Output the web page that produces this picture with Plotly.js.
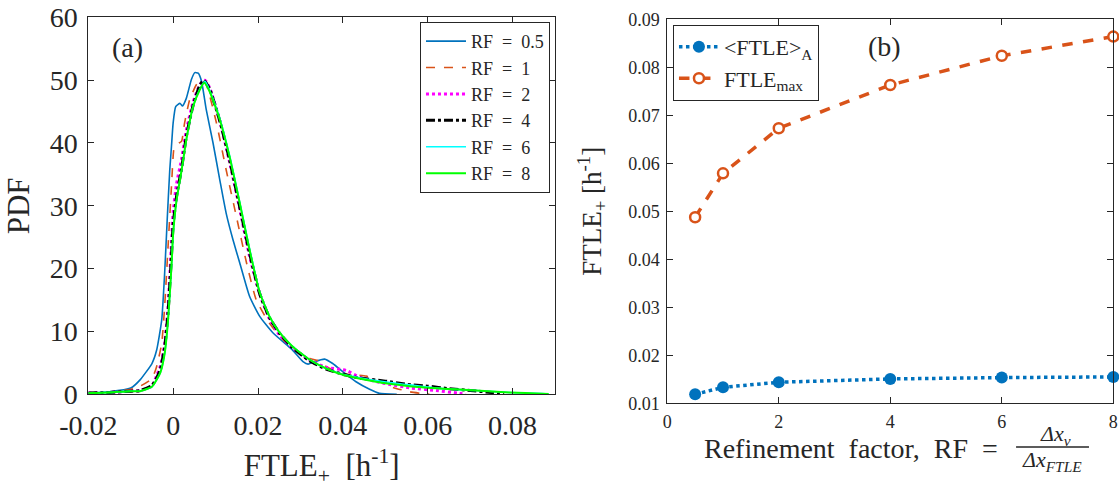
<!DOCTYPE html>
<html>
<head>
<meta charset="utf-8">
<script src="https://cdn.plot.ly/plotly-3.0.1.min.js"></script>
<style>html,body{margin:0;padding:0;background:#fff;}#chart{width:1119px;height:488px;}</style>
</head>
<body>
<div id="chart"></div>
<script>
// ---- Panel (a): PDF of FTLE+ for several refinement factors ----
const rf05_x = [-0.02,-0.015,-0.01,-0.0078,-0.005,-0.0039,-0.0027,-0.002,-0.0014,-0.0008,-0.0004,0,0.0006,0.0016,0.0022,0.0031,0.0043,0.0051,0.0059,0.0067,0.0078,0.0094,0.011,0.0125,0.0141,0.0157,0.018,0.0204,0.0235,0.0267,0.0282,0.0306,0.0318,0.0333,0.0357,0.0376,0.04,0.0431,0.0463,0.0486,0.0527];
const rf05_y = [0.15,0.4,1.0,2.3,4.9,7.0,11.8,19.3,27.8,35.7,39.4,43.2,45.8,46.3,45.9,47.1,50.1,51.2,51.1,49.8,45.3,40.0,34.1,28.8,24.6,20.9,15.6,12.4,9.8,7.9,7.0,5.2,4.8,5.2,5.6,4.9,3.6,2.0,0.8,0.15,0.0];

const rf1_x = [-0.02,-0.015,-0.01,-0.0078,-0.005,-0.0039,-0.0027,-0.002,-0.0012,-0.0004,0.0002,0.0006,0.0014,0.002,0.0027,0.0039,0.0055,0.0067,0.0078,0.0102,0.0125,0.0149,0.0173,0.0196,0.0227,0.0259,0.0282,0.0322,0.0345,0.0361,0.04,0.0455,0.0486,0.0518,0.0557,0.0596,0.0604];
const rf1_y = [0.15,0.3,0.8,1.3,2.5,4.4,8.1,14.0,23.5,33.0,39.2,39.6,40.0,40.3,43.2,46.9,49.3,50.1,49.3,43.2,35.7,28.3,20.9,15.0,11.3,8.7,7.4,5.7,5.3,4.4,3.3,2.9,2.0,1.1,0.4,0.05,0.0];

const rf2_x = [-0.02,-0.015,-0.01,-0.0078,-0.005,-0.004,-0.003,-0.002,-0.0012,-0.0004,0,0.0008,0.002,0.0031,0.0047,0.0063,0.0075,0.0086,0.011,0.0133,0.0157,0.018,0.0204,0.0227,0.025,0.028,0.032,0.036,0.0408,0.044,0.05,0.056,0.062,0.067,0.069];
const rf2_y = [0.2,0.3,0.5,0.6,1.3,2.8,4.5,8.0,14.0,24.0,29.0,33.5,37.5,42.0,46.5,49.3,50.0,48.8,43.5,37.0,29.5,22.0,16.0,12.0,9.5,7.5,5.5,4.3,3.8,2.7,1.7,1.0,0.6,0.2,0.0];

const rf4_x = [-0.02,-0.015,-0.01,-0.0078,-0.005,-0.0039,-0.003,-0.002,-0.0012,-0.0004,0,0.0008,0.002,0.0031,0.0047,0.0063,0.0072,0.0086,0.011,0.0133,0.0157,0.018,0.0204,0.0227,0.025,0.028,0.0322,0.0361,0.04,0.0439,0.05,0.055,0.06,0.065,0.07,0.075,0.078];
const rf4_y = [0.2,0.3,0.5,0.6,1.4,2.6,4.0,7.5,13.0,22.0,27.0,31.5,36.0,41.0,46.0,49.2,50.0,48.6,43.5,37.3,29.8,22.5,16.0,12.2,9.8,7.5,5.3,4.0,3.2,2.6,2.1,1.6,1.3,0.9,0.6,0.3,0.05];

const rf6_x = [-0.02,-0.015,-0.01,-0.0078,-0.005,-0.0039,-0.003,-0.002,-0.0012,-0.0004,0,0.0008,0.002,0.0031,0.0047,0.0063,0.0075,0.0086,0.011,0.0133,0.0157,0.018,0.0204,0.0227,0.025,0.028,0.0322,0.0361,0.04,0.0478,0.0557,0.0635,0.0714,0.0792,0.087,0.0885];
const rf6_y = [0.2,0.3,0.5,0.5,1.2,2.3,3.5,6.5,11.8,20.3,25.6,30.9,35.7,40.5,45.8,48.6,49.8,48.4,43.9,38.0,30.6,23.2,16.3,12.4,9.9,7.7,5.5,4.1,3.2,2.2,1.5,0.9,0.6,0.3,0.1,0.05];

const rf8_x = [-0.02,-0.015,-0.01,-0.0078,-0.005,-0.0039,-0.003,-0.002,-0.0012,-0.0004,0,0.0008,0.002,0.0031,0.0047,0.0063,0.0073,0.0086,0.011,0.0133,0.0157,0.018,0.0204,0.0227,0.025,0.028,0.0322,0.0361,0.04,0.0478,0.0557,0.0635,0.0714,0.0792,0.087,0.0885];
const rf8_y = [0.2,0.3,0.5,0.5,1.2,2.3,3.5,6.5,11.8,20.3,25.6,30.9,35.7,40.5,45.8,48.5,49.6,48.2,43.7,37.8,30.4,23.0,16.2,12.4,9.9,7.7,5.5,4.1,3.1,2.0,1.3,0.9,0.6,0.3,0.1,0.05];

const seriesNamesA = ['RF\u2002=\u20020.5','RF\u2002=\u20021','RF\u2002=\u20022','RF\u2002=\u20024','RF\u2002=\u20026','RF\u2002=\u20028'];
const xTickValsA = [-0.02,0,0.02,0.04,0.06,0.08];
const xTickTextA = ['-0.02','0','0.02','0.04','0.06','0.08'];

// ---- Panel (b): FTLE+ vs refinement factor ----
const rfFactors = [0.5,1,2,4,6,8];
const ftleMean = [0.01187,0.01333,0.01438,0.01507,0.01535,0.01549];
const ftleMax  = [0.04875,0.0579,0.0673,0.0763,0.0824,0.0864];
const seriesNamesB = ['&lt;FTLE&gt;<sub>A</sub>','FTLE<sub>max</sub>'];

const FONT = 'Liberation Serif, Times New Roman, serif';
const AX = '#262626';

function lineA(x,y,name,color,dash,width){
  return {x:x,y:y,name:name,type:'scatter',mode:'lines',xaxis:'x',yaxis:'y',legend:'legend',
    line:{color:color,dash:dash,width:width,shape:'spline',smoothing:0.5}};
}

const traces = [
  lineA(rf05_x,rf05_y,seriesNamesA[0],'#0072BD','solid',1.6),
  lineA(rf1_x,rf1_y,seriesNamesA[1],'#D95319','dash',1.6),
  lineA(rf2_x,rf2_y,seriesNamesA[2],'#FF00FF','dot',3),
  lineA(rf4_x,rf4_y,seriesNamesA[3],'#000000','dashdot',3),
  lineA(rf6_x,rf6_y,seriesNamesA[4],'#00FFFF','solid',1.6),
  lineA(rf8_x,rf8_y,seriesNamesA[5],'#00FF00','solid',2),
  {x:rfFactors,y:ftleMean,name:seriesNamesB[0],type:'scatter',mode:'lines+markers',xaxis:'x2',yaxis:'y2',legend:'legend2',cliponaxis:false,
    line:{color:'#0072BD',dash:'dot',width:3.5},marker:{color:'#0072BD',size:12,symbol:'circle'}},
  {x:rfFactors,y:ftleMax,name:seriesNamesB[1],type:'scatter',mode:'lines+markers',xaxis:'x2',yaxis:'y2',legend:'legend2',cliponaxis:false,
    line:{color:'#D95319',dash:'dash',width:3.5},marker:{color:'#ffffff',size:10,symbol:'circle',line:{color:'#D95319',width:2.5}}}
];

const axBase = {showline:true,linecolor:AX,linewidth:1,mirror:'ticks',ticks:'inside',ticklen:6,tickcolor:AX,
  showgrid:false,zeroline:false,automargin:false,tickfont:{family:FONT,color:'#262626'}};

const layout = {
  width:1119,height:488,margin:{l:0,r:0,t:0,b:0,autoexpand:false},paper_bgcolor:'#fff',plot_bgcolor:'#fff',
  font:{family:FONT,color:'#262626'},
  xaxis:Object.assign({},axBase,{domain:[0.0789,0.496],anchor:'y',range:[-0.02,0.09],tickvals:xTickValsA,ticktext:xTickTextA,
    tickfont:{family:FONT,size:28,color:'#262626'},ticklabelstandoff:6,
    title:{text:'FTLE<sub>+</sub>  [h<sup>-1</sup>]',font:{family:FONT,size:31,color:'#262626'},standoff:16}}),
  yaxis:Object.assign({},axBase,{domain:[0.192,0.9645],anchor:'x',range:[0,60],dtick:10,
    tickfont:{family:FONT,size:28,color:'#262626'},ticklabelstandoff:4,
    title:{text:'PDF',font:{family:FONT,size:31,color:'#262626'},standoff:10}}),
  xaxis2:Object.assign({},axBase,{domain:[0.5963,0.9949],anchor:'y2',range:[0,8],dtick:2,
    tickfont:{family:FONT,size:18,color:'#262626'},ticklabelstandoff:2}),
  yaxis2:Object.assign({},axBase,{domain:[0.1736,0.9605],anchor:'x2',range:[0.01,0.09],dtick:0.01,tickformat:'.2f',
    tickfont:{family:FONT,size:18,color:'#262626'},ticklabelstandoff:3,
    title:{text:'FTLE<sub>+</sub> [h<sup>-1</sup>]',font:{family:FONT,size:27,color:'#262626'},standoff:18}}),
  legend:{x:0.4915,xanchor:'right',y:0.955,yanchor:'top',bgcolor:'#fff',bordercolor:AX,borderwidth:1,
    font:{family:FONT,size:18,color:'#262626'},itemwidth:40,tracegroupgap:0},
  legend2:{x:0.6014,xanchor:'left',y:0.949,yanchor:'top',bgcolor:'#fff',bordercolor:AX,borderwidth:1,
    font:{family:FONT,size:22,color:'#262626'},itemwidth:40},
  annotations:[
    {xref:'x domain',yref:'y domain',x:0.085,y:0.921,xanchor:'center',yanchor:'middle',text:'(a)',showarrow:false,font:{family:FONT,size:28,color:'#262626'}},
    {xref:'x2 domain',yref:'y2 domain',x:0.488,y:0.928,xanchor:'center',yanchor:'middle',text:'(b)',showarrow:false,font:{family:FONT,size:28,color:'#262626'}},
    {xref:'x2 domain',yref:'y2 domain',x:0.746,y:-0.118,xanchor:'right',yanchor:'middle',text:'Refinement\u2002factor,\u2002RF\u2002=',showarrow:false,font:{family:FONT,size:28,color:'#262626'}},
    {xref:'x2 domain',yref:'y2 domain',x:0.8312,y:-0.0826,xanchor:'left',yanchor:'middle',text:'<i>Δx<sub>v</sub></i>',showarrow:false,font:{family:FONT,size:22,color:'#262626'}},
    {xref:'x2 domain',yref:'y2 domain',x:0.7907,y:-0.1490,xanchor:'left',yanchor:'middle',text:'<i>Δx<sub>FTLE</sub></i>',showarrow:false,font:{family:FONT,size:22,color:'#262626'}}
  ],
  shapes:[
    {type:'line',xref:'x2 domain',yref:'y2 domain',x0:0.782,x1:0.9455,y0:-0.1138,y1:-0.1138,line:{color:'#262626',width:1.5}}
  ]
};

Plotly.newPlot('chart',traces,layout,{displayModeBar:false,staticPlot:true});
</script>
</body>
</html>
